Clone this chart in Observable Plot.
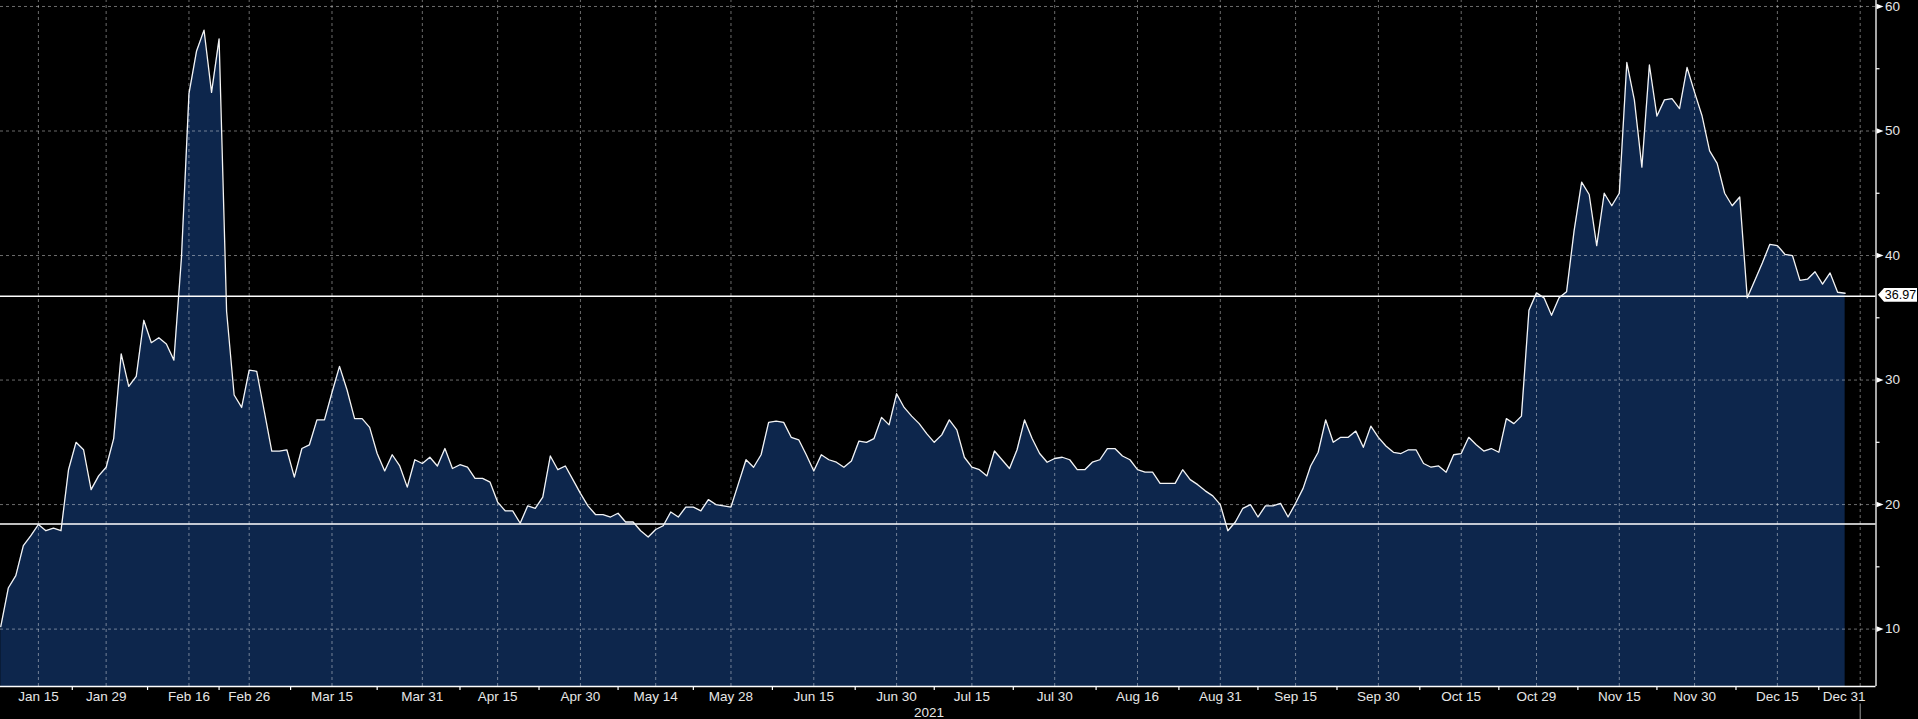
<!DOCTYPE html>
<html><head><meta charset="utf-8">
<script src="https://cdn.jsdelivr.net/npm/d3@7"></script>
<script src="https://cdn.jsdelivr.net/npm/@observablehq/plot@0.6"></script>
<style>html,body{margin:0;padding:0;background:#000;overflow:hidden}svg{display:block}</style>
</head><body><div id="chart"></div>
<script>
// ---- data (trading days, first one 2021-01-08) ----
const firstDay = "2021-01-08";
const lastDay = "2021-12-31";
const holidays = ["2021-01-18","2021-02-15","2021-04-02","2021-05-31","2021-07-05","2021-09-06","2021-11-25","2021-12-24"];
const values = [
 10.2,13.3,14.3,16.7,17.5,18.4,17.9,18.1,17.9,22.8,
 25.0,24.4,21.2,22.3,23.0,25.3,32.1,29.5,30.3,34.8,
 33.0,33.4,32.9,31.6,39.8,53.0,56.4,58.1,53.1,57.4,
 35.5,28.8,27.8,30.8,30.7,27.5,24.3,24.3,24.4,22.2,
 24.5,24.8,26.8,26.8,29.0,31.1,29.2,26.9,26.9,26.2,
 24.1,22.7,24.0,23.1,21.4,23.6,23.3,23.8,23.1,24.5,
 22.9,23.2,23.0,22.1,22.1,21.8,20.2,19.5,19.5,18.5,
 19.9,19.7,20.6,23.9,22.8,23.1,22.0,20.9,19.9,19.2,
 19.2,19.0,19.3,18.6,18.6,17.9,17.4,18.0,18.3,19.4,
 19.0,19.8,19.8,19.5,20.4,20.0,19.9,19.8,21.7,23.6,
 23.0,24.0,26.6,26.7,26.6,25.4,25.2,24.0,22.7,24.0,
 23.6,23.4,23.0,23.5,25.1,25.0,25.3,27.0,26.4,28.9,
 27.8,27.1,26.5,25.7,25.0,25.6,26.8,26.0,23.8,23.0,
 22.8,22.3,24.3,23.6,22.9,24.4,26.8,25.3,24.1,23.4,
 23.7,23.8,23.6,22.8,22.8,23.4,23.6,24.5,24.5,23.9,
 23.6,22.8,22.6,22.6,21.7,21.7,21.7,22.8,22.0,21.6,
 21.1,20.7,20.0,17.9,18.6,19.7,20.0,19.0,19.9,19.9,
 20.1,19.0,20.1,21.3,23.1,24.2,26.8,25.0,25.4,25.4,
 25.9,24.6,26.3,25.4,24.7,24.2,24.1,24.4,24.4,23.3,
 23.0,23.1,22.6,24.0,24.1,25.4,24.8,24.3,24.5,24.2,
 26.9,26.5,27.1,35.6,37.0,36.6,35.2,36.6,37.1,42.0,
 45.9,44.9,40.8,45.0,44.0,45.0,55.5,52.5,47.1,55.3,
 51.2,52.5,52.6,51.8,55.1,53.1,51.2,48.4,47.4,45.0,
 44.0,44.7,36.6,38.0,39.4,40.9,40.8,40.1,40.0,38.0,
 38.1,38.7,37.7,38.6,37.05,36.97
];
const tickLabels = ["Jan 15","Jan 29","Feb 16","Feb 26","Mar 15","Mar 31","Apr 15","Apr 30","May 14","May 28","Jun 15","Jun 30","Jul 15","Jul 30","Aug 16","Aug 31","Sep 15","Sep 30","Oct 15","Oct 29","Nov 15","Nov 30","Dec 15","Dec 31"];
const tickDates = ["2021-01-15","2021-01-29","2021-02-16","2021-02-26","2021-03-15","2021-03-31","2021-04-15","2021-04-30","2021-05-14","2021-05-28","2021-06-15","2021-06-30","2021-07-15","2021-07-30","2021-08-16","2021-08-31","2021-09-15","2021-09-30","2021-10-15","2021-10-29","2021-11-15","2021-11-30","2021-12-15","2021-12-31"];
const yTicks = [10,20,30,40,50,60];
const yMinorTicks = [15,25,35,45,55];
const lastValue = 36.97;
const upperLine = 36.72;
const lowerLine = 18.43;
const yearLabel = "2021";

// ---- layout ----
const W = 1918, H = 719;
const xDomain = [-0.035, 249.1];
const yDomain = [5.39, 60.48];
const yearLabelAt = 123.3;
const gridStyle = {stroke: "#fff", strokeOpacity: 0.42, strokeDasharray: "3,3", strokeWidth: 1};

const fmt = d3.utcFormat("%Y-%m-%d");
const hol = new Set(holidays);
const days = d3.utcDay.range(new Date(firstDay), d3.utcDay.offset(new Date(lastDay), 1))
  .filter(d => d.getUTCDay() % 6 !== 0 && !hol.has(fmt(d)));
const dayIndex = new Map(days.map((d, i) => [fmt(d), i]));
const data = values.map((v, i) => ({i, v, date: days[i]}));
const ticks = tickLabels.map((label, k) => ({label, i: dayIndex.get(tickDates[k])}));
const tickIdx = ticks.map(t => t.i);
const midIdx = tickIdx.slice(1).map((t, k) => (t + tickIdx[k]) / 2);
const lastTick = ticks[ticks.length - 1];

const sym = draw => ({draw});
const triSym = sym(c => { c.moveTo(0.5, -2.8); c.lineTo(7.5, 0); c.lineTo(0.5, 2.8); c.closePath(); });
const hTick = sym(c => { c.moveTo(0, 0); c.lineTo(3.5, 0); });
const vTick = sym(c => { c.moveTo(0, 0); c.lineTo(0, 3.5); });
const vLong = sym(c => { c.moveTo(0, 0); c.lineTo(0, 16); });
const tagSym = sym(c => { c.moveTo(2, 0); c.lineTo(8, -6.8); c.lineTo(41, -6.8); c.lineTo(41, 6.8); c.lineTo(8, 6.8); c.closePath(); });

const chart = Plot.plot({
  width: W, height: H,
  marginLeft: 0, marginRight: 42.5, marginTop: 0, marginBottom: 33,
  style: {background: "#000", color: "#e6e6e6", fontFamily: "'Liberation Sans', Arial, sans-serif", fontSize: "13px"},
  x: {type: "linear", domain: xDomain, axis: null},
  y: {domain: yDomain, axis: null},
  marks: [
    Plot.areaY(data, {x: "i", y1: yDomain[0], y2: "v", fill: "#0d264c"}),
    Plot.ruleY(yTicks, {...gridStyle}),
    Plot.ruleX(tickIdx, {...gridStyle, y1: yDomain[0], y2: yDomain[1]}),
    Plot.ruleY([upperLine, lowerLine], {stroke: "#fff", strokeWidth: 1.5}),
    Plot.lineY(data, {x: "i", y: "v", stroke: "#f4f4f4", strokeWidth: 1.3}),
    Plot.ruleX([xDomain[1]], {stroke: "#fff", strokeWidth: 1.3}),
    Plot.ruleY([yDomain[0]], {stroke: "#fff", strokeWidth: 1.3}),
    // right axis
    Plot.dot(yTicks, {x: xDomain[1], y: d => d, symbol: triSym, fill: "#fff", stroke: null}),
    Plot.dot(yMinorTicks, {x: xDomain[1], y: d => d, symbol: hTick, stroke: "#fff", fill: "none", strokeWidth: 1.2}),
    Plot.text(yTicks, {x: xDomain[1], y: d => d, text: d => String(d), dx: 9, textAnchor: "start", fill: "#e6e6e6", fontSize: 13.5}),
    // last value tag
    Plot.dot([lastValue], {x: xDomain[1], y: upperLine, dy: -1.5, symbol: tagSym, fill: "#fff", stroke: null}),
    Plot.text([lastValue], {x: xDomain[1], y: upperLine, dy: -1.5, dx: 24.5, text: d => d.toFixed(2), fill: "#000", fontSize: 12.5, textAnchor: "middle"}),
    // bottom axis
    Plot.dot(midIdx, {x: d => d, y: yDomain[0], symbol: vTick, stroke: "#fff", fill: "none", strokeWidth: 1.2}),
    Plot.text(ticks.slice(0, -1), {x: "i", y: yDomain[0], dy: 10.5, text: "label", fill: "#e6e6e6", fontSize: 13.5}),
    Plot.text([lastTick], {x: "i", y: yDomain[0], dy: 10.5, dx: -16, text: "label", fill: "#e6e6e6", fontSize: 13.5}),
    Plot.dot([lastTick], {x: "i", y: yDomain[0], dy: 17, symbol: vLong, stroke: "#9a9a9a", fill: "none", strokeWidth: 1}),
    Plot.text([yearLabel], {x: yearLabelAt, y: yDomain[0], dy: 26, text: d => d, fill: "#e6e6e6", fontSize: 13.5})
  ]
});
document.getElementById("chart").appendChild(chart);
</script>
</body></html>
